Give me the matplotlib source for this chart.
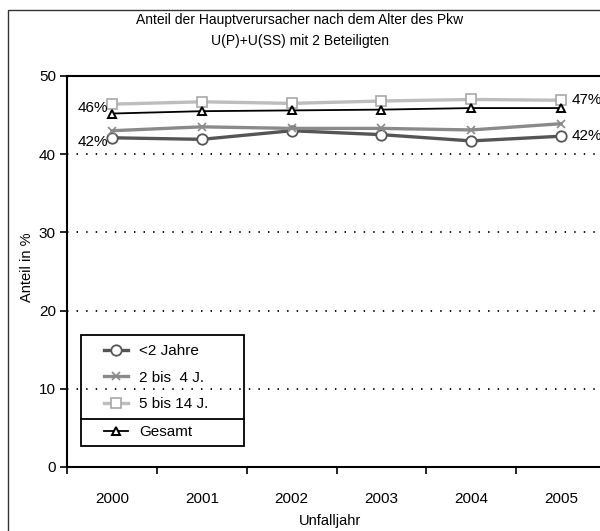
import numpy as np
import matplotlib.pyplot as plt
from matplotlib.patches import Rectangle
from matplotlib.lines import Line2D

plt.rcParams['font.family'] = ['Liberation Sans', 'DejaVu Sans']

years = ['2000', '2001', '2002', '2003', '2004', '2005']
unter_2 = [42.1, 41.9, 43.0, 42.5, 41.7, 42.3]
j2_bis_4 = [43.0, 43.5, 43.3, 43.3, 43.1, 43.9]
j5_bis_14 = [46.4, 46.7, 46.5, 46.8, 47.0, 46.9]
gesamt = [45.2, 45.5, 45.6, 45.7, 45.9, 45.9]
labels = ['<2 Jahre', '2 bis  4 J.', '5 bis 14 J.', 'Gesamt']

W, H = 600, 531
fig = plt.figure(figsize=(W / 100, H / 100), dpi=100)

def px(x, y):
    # pixel position (from top left) -> figure fraction
    return x / W, 1 - y / H

# outer frame
fig.patches.append(Rectangle(px(8, 540), 1, (540 - 10) / H, transform=fig.transFigure,
                             fill=False, ec='#333333', lw=1.0))

ax = fig.add_axes([67 / W, (H - 467) / H, 539 / W, 391 / H])
x = np.arange(len(years))

l1, = ax.plot(x, unter_2, color='#555555', lw=2.4, marker='o', ms=7.5,
              mfc='white', mec='#555555', mew=1.3, zorder=3)
l2, = ax.plot(x, j2_bis_4, color='#8a8a8a', lw=2.4, marker='x', ms=6,
              mec='#8a8a8a', mew=1.2, zorder=3)
l3, = ax.plot(x, j5_bis_14, color='#bdbdbd', lw=2.4, marker='s', ms=7.5,
              mfc='white', mec='#a8a8a8', mew=1.2, zorder=3)
l4, = ax.plot(x, gesamt, color='black', lw=1.3, marker='^', ms=6,
              mfc='white', mec='black', mew=1.4, zorder=4)

# value labels at the ends
for series in (unter_2, j5_bis_14):
    ax.text(x[0] - 0.04, series[0] - 0.5, f'{series[0]:.0f}%', ha='right', va='center', fontsize=11)
    ax.text(x[-1] + 0.12, series[-1], f'{series[-1]:.0f}%', ha='left', va='center', fontsize=11)

ax.set_xlim(-0.5, 5.5)
ax.set_ylim(0, 50)
ax.set_yticks(np.arange(0, 51, 10))
ax.set_xticks(x)
ax.set_xticklabels(years)
ax.set_xticks(np.arange(-0.5, 6, 1), minor=True)
ax.tick_params(axis='x', which='major', length=0, pad=18, labelsize=11)
ax.tick_params(axis='x', which='minor', length=5, width=1.2, direction='out')
ax.tick_params(axis='y', length=5, width=1.2, direction='out', labelsize=11, pad=3)

for yv in range(10, 50, 10):
    ax.axhline(yv, color='black', lw=1.3, ls=(0, (0.8, 4.5)), zorder=1)

for s in ('left', 'bottom', 'top'):
    ax.spines[s].set_linewidth(1.5)
ax.spines['right'].set_visible(False)

fig.text(*px(27, 267), 'Anteil in %', rotation=90, ha='center', va='center', fontsize=10.5)
fig.text(*px(330, 521), 'Unfalljahr', ha='center', va='center', fontsize=10.5)

fig.text(0.5, 1 - 20 / H, 'Anteil der Hauptverursacher nach dem Alter des Pkw',
         ha='center', va='center', fontsize=10)
fig.text(0.5, 1 - 41 / H, 'U(P)+U(SS) mit 2 Beteiligten',
         ha='center', va='center', fontsize=10)

# legend with its own box and a rule above "Gesamt"
fig.patches.append(Rectangle(px(81, 446), 163 / W, 111 / H, transform=fig.transFigure,
                             fill=False, ec='black', lw=1.3, zorder=5))
fig.lines.append(Line2D([81 / W, 244 / W], [1 - 419 / H] * 2, transform=fig.transFigure,
                        color='black', lw=1.3))
top = fig.legend([l1, l2, l3], labels[:3], loc='upper left',
                 bbox_to_anchor=px(104, 344), frameon=False, fontsize=11,
                 handlelength=1.6, handletextpad=0.7, labelspacing=0.82,
                 borderpad=0, borderaxespad=0)
bottom = fig.legend([l4], labels[3:], loc='upper left',
                    bbox_to_anchor=px(104, 425), frameon=False, fontsize=11,
                    handlelength=1.6, handletextpad=0.7,
                    borderpad=0, borderaxespad=0)

fig.savefig('out.png', dpi=100)
